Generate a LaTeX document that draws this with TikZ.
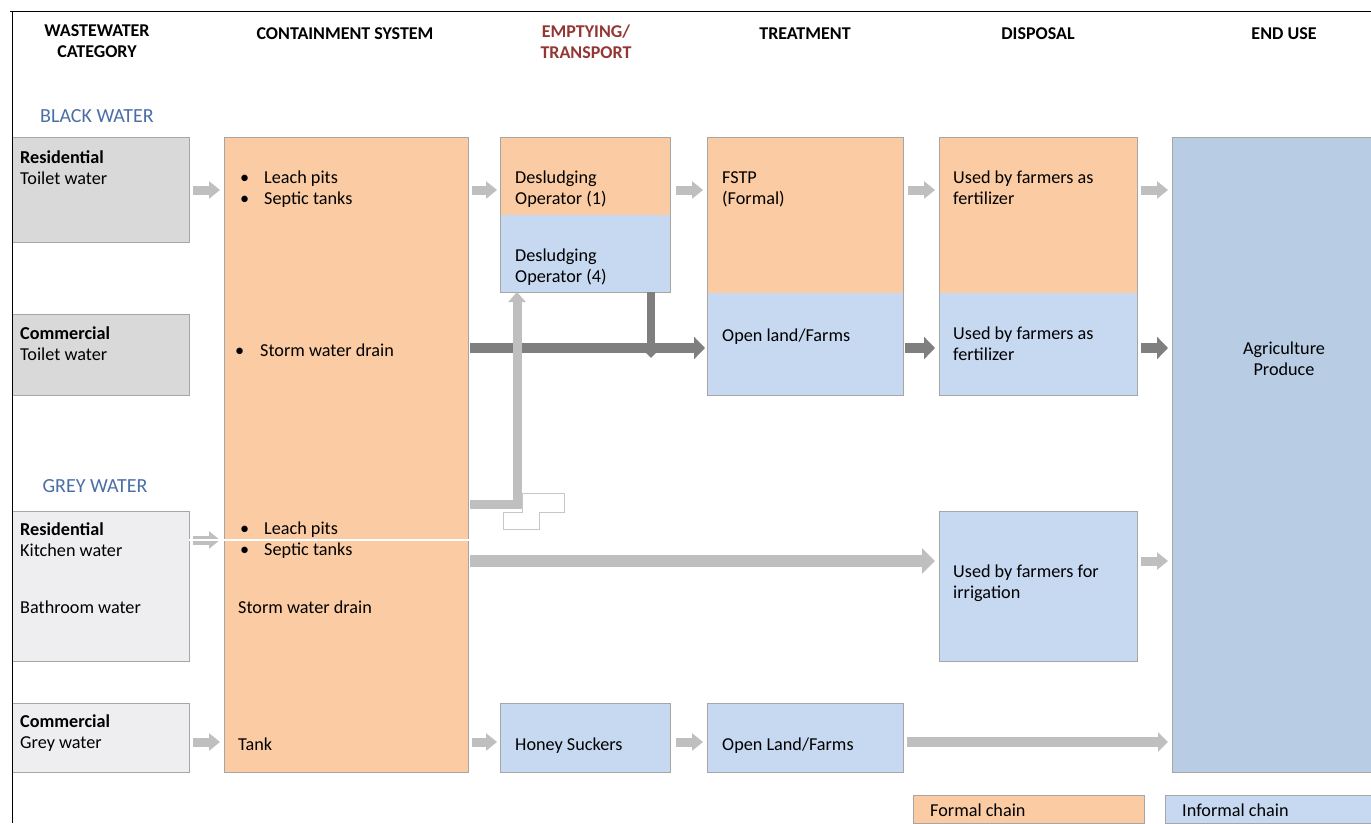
\documentclass[tikz,border=0pt]{standalone}
\usepackage{fontspec}
\setmainfont{Carlito}
\usetikzlibrary{arrows.meta,calc}
\definecolor{peach}{HTML}{FBCBA3}
\definecolor{lblue}{HTML}{C6D9F1}
\definecolor{dblue}{HTML}{B8CCE4}
\definecolor{gbox}{HTML}{D9D9D9}
\definecolor{lgbox}{HTML}{EEEEF1}
\definecolor{bord}{HTML}{A6A6A6}
\definecolor{larr}{HTML}{BFBFBF}
\definecolor{darr}{HTML}{7F7F7F}
\definecolor{hdred}{HTML}{943634}
\definecolor{hdblue}{HTML}{4A6FA5}
\newcommand\mybul{\makebox[24pt][l]{\textbullet}}
\begin{document}
\begin{tikzpicture}[x=1pt,y=-1pt,
  font=\fontsize{18.2}{21}\selectfont,
  bx/.style={draw=bord, line width=0.6pt, anchor=north west, inner sep=0pt, outer sep=0pt},
  tx/.style={anchor=north west, inner sep=0pt, align=left, yshift=-3pt, execute at begin node=\strut},
  hd/.style={anchor=north, inner sep=0pt, align=center, yshift=-3.5pt, font=\fontsize{18}{21}\selectfont\bfseries, execute at begin node=\strut},
  sec/.style={inner sep=0pt, text=hdblue, font=\fontsize{20}{24}\selectfont},
  la/.style={draw=larr, line width=9pt, -{Triangle[length=11pt,width=17pt]}},
  lal/.style={draw=larr, line width=12pt, -{Triangle[length=13pt,width=25pt]}},
  lam/.style={draw=larr, line width=10pt, -{Triangle[length=10pt,width=19pt]}},
  da/.style={draw=darr, line width=10pt, -{Triangle[length=11pt,width=22pt]}},
  dav/.style={draw=darr, line width=8pt, -{Triangle[length=8pt,width=15pt]}}]
\fill[white] (0,0) rectangle (1371,823);
\useasboundingbox (0,0) rectangle (1371,823);

% row / column coordinates
\coordinate (r1) at (0,190);
\coordinate (r2) at (0,348);
\coordinate (rL) at (0,504);
\coordinate (rk0) at (0,540);
\coordinate (r3) at (0,561);
\coordinate (r4) at (0,742);
\coordinate (vD) at (651,0);
\coordinate (vL) at (517,0);

% boxes
\node[bx, fill=gbox, minimum width=177pt, minimum height=105pt] (rt) at (12,137) {};
\node[bx, fill=gbox, minimum width=177pt, minimum height=81pt] (ct) at (12,314) {};
\node[bx, fill=lgbox, minimum width=177pt, minimum height=150pt] (rk) at (12,511) {};
\node[bx, fill=lgbox, minimum width=177pt, minimum height=69pt] (cg) at (12,703) {};
\node[bx, fill=peach, minimum width=244pt, minimum height=635pt] (cont) at (224,137) {};
\fill[peach] (500,137) rectangle (670,215);
\fill[lblue] (500,215) rectangle (670,292);
\node[bx, minimum width=170pt, minimum height=155pt] (des) at (500,137) {};
\fill[peach] (707,137) rectangle (903,293);
\fill[lblue] (707,293) rectangle (903,395);
\node[bx, minimum width=196pt, minimum height=258pt] (trt) at (707,137) {};
\fill[peach] (939,137) rectangle (1137,293);
\fill[lblue] (939,293) rectangle (1137,395);
\node[bx, minimum width=198pt, minimum height=258pt] (dsp) at (939,137) {};
\node[bx, fill=dblue, minimum width=201pt, minimum height=635pt] (eu) at (1172,137) {};
\node[bx, fill=lblue, minimum width=198pt, minimum height=150pt] (irr) at (939,511) {};
\node[bx, fill=lblue, minimum width=170pt, minimum height=69pt] (hs) at (500,703) {};
\node[bx, fill=lblue, minimum width=196pt, minimum height=69pt] (ol) at (707,703) {};
\node[bx, fill=peach, minimum width=231pt, minimum height=28pt] (lf) at (913,795) {};
\node[bx, fill=lblue, minimum width=210pt, minimum height=28pt] (li) at (1165,795) {};

% headers
\node[hd] (h1) at (97,21) {WASTEWATER\\CATEGORY};
\node[hd] (h2) at (345,21) {CONTAINMENT SYSTEM};
\node[hd, text=hdred] (h3) at (586,21) {EMPTYING/\\TRANSPORT};
\node[hd] (h4) at (805,21) {TREATMENT};
\node[hd] (h5) at (1038,21) {DISPOSAL};
\node[hd] (h6) at (1284,21) {END USE};
\node[sec] (bw) at (97,116) {BLACK WATER};
\node[sec] (gw) at (95,486) {GREY WATER};

% texts
\node[tx] (trt1) at (20,147) {\textbf{Residential}\\Toilet water};
\node[tx] (tct1) at (20,324) {\textbf{Commercial}\\Toilet water};
\node[tx] (trk1) at (20,519) {\textbf{Residential}\\Kitchen water};
\node[tx] (trk2) at (20,596) {Bathroom water};
\node[tx] (tcg1) at (20,712) {\textbf{Commercial}\\Grey water};
\node[tx] (tc1) at (240,168) {\mybul Leach pits\\\mybul Septic tanks};
\node[tx] (tc2) at (235,339) {\makebox[25pt][l]{\textbullet}Storm water drain};
\node[tx] (tc3) at (240,519) {\mybul Leach pits\\\mybul Septic tanks};
\node[tx] (tc4) at (238,596) {Storm water drain};
\node[tx] (tc5) at (238,733) {Tank};
\node[tx] (td1) at (515,168) {Desludging\\Operator (1)};
\node[tx] (td2) at (515,246) {Desludging\\Operator (4)};
\node[tx] (tt1) at (722,168) {FSTP\\(Formal)};
\node[tx] (tt2) at (722,324) {Open land/Farms};
\node[tx] (tp1) at (953,168) {Used by farmers as\\fertilizer};
\node[tx] (tp2) at (953,324) {Used by farmers as\\fertilizer};
\node[tx] (tp3) at (953,562) {Used by farmers for\\irrigation};
\node[align=center, inner sep=0pt] (tag) at (1284,359) {Agriculture\\Produce};
\node[tx] (ths) at (515,733) {Honey Suckers};
\node[tx] (tol) at (722,733) {Open Land/Farms};
\node[tx] (tlf) at (930,799) {Formal chain};
\node[tx] (tli) at (1182,799) {Informal chain};

% artefact outline
\draw[black!22, fill=white, line width=0.6pt] (522,493) -- (564,493) -- (564,512) -- (539,512) -- (539,529) -- (503,529) -- (503,512) -- (522,512) -- cycle;

% black water row 1 (light arrows)
\draw[la] ([xshift=4pt]rt.east |- r1) -- ([xshift=-4pt]cont.west |- r1);
\draw[la] ([xshift=4pt]cont.east |- r1) -- ([xshift=-3pt]des.west |- r1);
\draw[la] ([xshift=6pt]des.east |- r1) -- ([xshift=-4pt]trt.west |- r1);
\draw[la] ([xshift=5pt]trt.east |- r1) -- ([xshift=-4pt]dsp.west |- r1);
\draw[la] ([xshift=4pt]dsp.east |- r1) -- ([xshift=-4pt]eu.west |- r1);

% dark informal arrows
\draw[da] ([xshift=2pt]cont.east |- r2) -- ([xshift=-2pt]trt.west |- r2);
\draw[dav] (des.south -| vD) -- ([yshift=-10pt]r2 -| vD);
\draw[da] ([xshift=2pt]trt.east |- r2) -- ([xshift=-4pt]dsp.west |- r2);
\draw[da] ([xshift=4pt]dsp.east |- r2) -- ([xshift=-4pt]eu.west |- r2);

% light L arrow to desludging operator
\draw[la, line width=9pt, line join=miter, -{Triangle[length=10pt,width=17pt]}] ([xshift=2pt]cont.east |- rL) -- (vL |- rL) -- (des.south -| vL);

% grey water
\draw[la] ([xshift=4pt]rk.east |- rk0) -- ([xshift=-4pt]cont.west |- rk0);
\draw[white, line width=1.3pt] (rk.east |- rk0) -- ([xshift=9pt]cont.east |- rk0);
\draw[lal] ([xshift=2pt]cont.east |- r3) -- ([xshift=-4pt]irr.west |- r3);
\draw[la] ([xshift=4pt]irr.east |- r3) -- ([xshift=-4pt]eu.west |- r3);
\draw[la] ([xshift=4pt]cg.east |- r4) -- ([xshift=-4pt]cont.west |- r4);
\draw[la] ([xshift=4pt]cont.east |- r4) -- ([xshift=-3pt]hs.west |- r4);
\draw[la] ([xshift=6pt]hs.east |- r4) -- ([xshift=-4pt]ol.west |- r4);
\draw[lam] ([xshift=4pt]ol.east |- r4) -- ([xshift=-4pt]eu.west |- r4);

% frame lines
\draw[line width=1pt] (10,11) -- (1371,11);
\draw[line width=1pt] (12,11) -- (12,823);
\end{tikzpicture}
\end{document}
